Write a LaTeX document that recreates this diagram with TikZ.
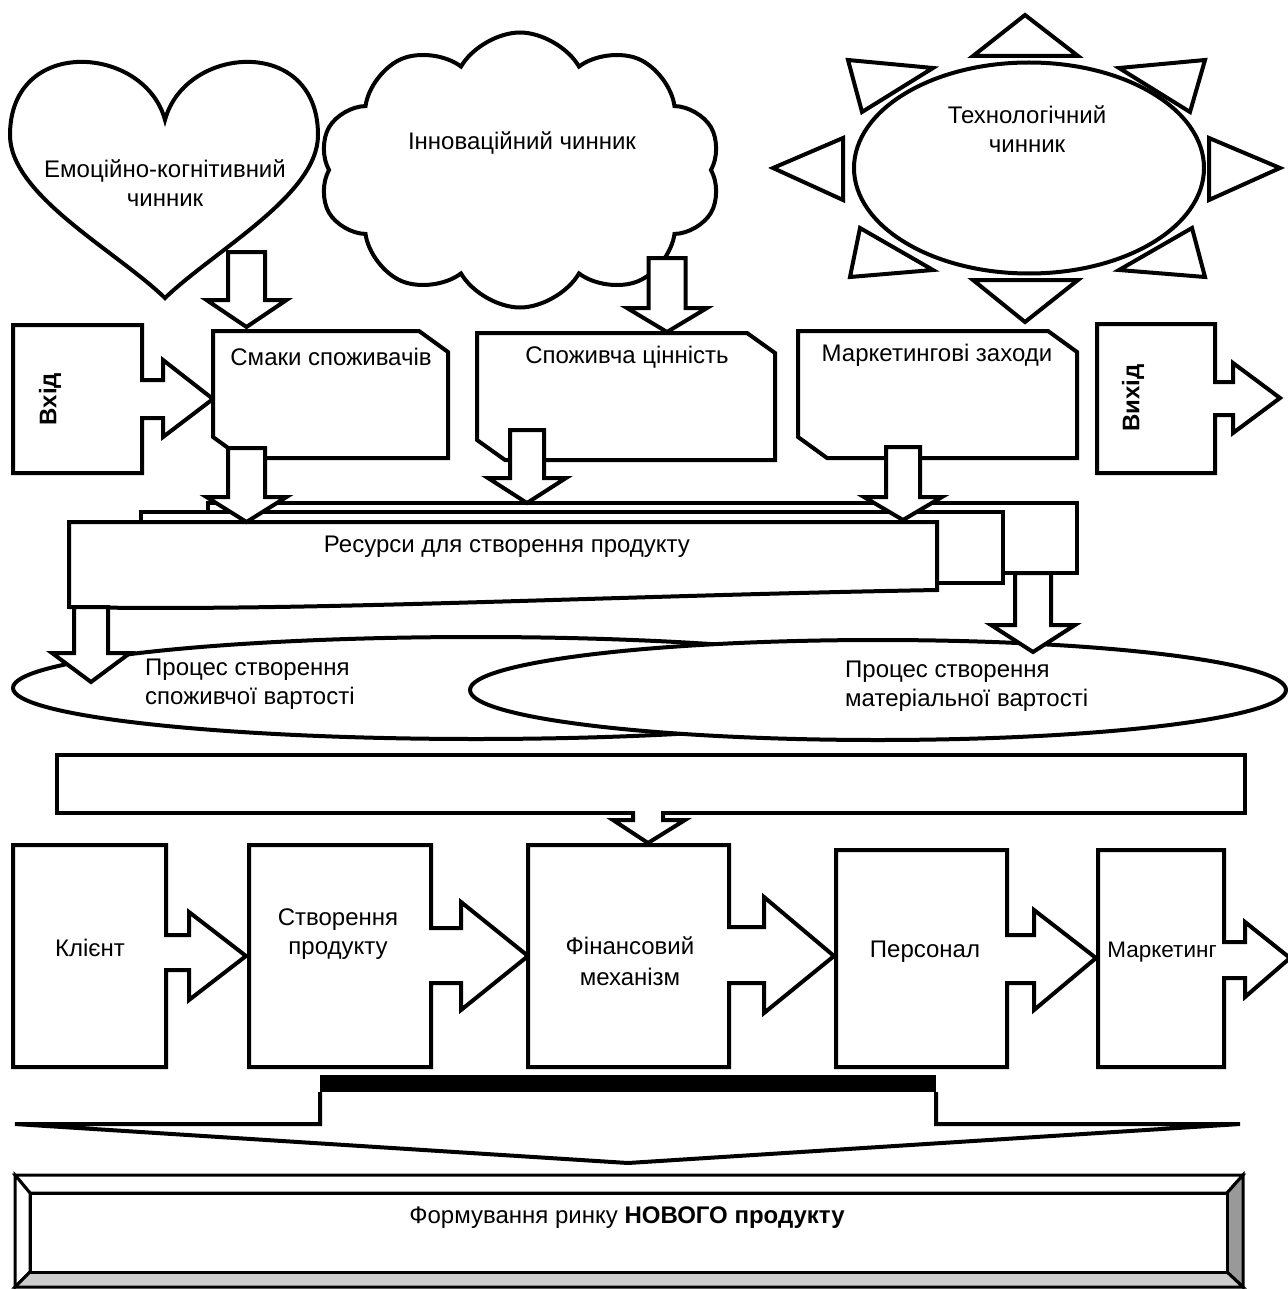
\documentclass[tikz,border=0pt]{standalone}
\usepackage{fontspec}
\setmainfont{Liberation Sans}
\usetikzlibrary{shapes.symbols,shapes.geometric}
\tikzset{
  blk/.style={draw=black, line width=4pt, fill=white, line join=miter},
  txt/.style={font=\fontsize{24}{29}\selectfont, align=center, inner sep=0pt},
}
\newcommand\dnarr[6]{%
  \draw[blk] (#1-#5,#2) -- (#1+#5,#2) -- (#1+#5,#3) -- (#1+#6,#3) -- (#1,#4) -- (#1-#6,#3) -- (#1-#5,#3) -- cycle;}
\begin{document}
\begin{tikzpicture}[x=1pt,y=-1pt]
\useasboundingbox (0,0) rectangle (1287,1289);
% ---------- top row ----------
\draw[blk] (165,120) .. controls (185,45) and (318,35) .. (318,135)
  .. controls (318,195) and (215,250) .. (165,298)
  .. controls (115,250) and (10,195) .. (10,135)
  .. controls (10,35) and (145,45) .. (165,120) -- cycle;
\node[cloud, draw, fill=white, line width=4pt, cloud puffs=10, cloud puff arc=120,
  cloud ignores aspect, minimum width=402pt, minimum height=275pt, inner sep=0pt] (cloud) at (520,170) {};
% sun
\foreach \p in {
  {(973,56) -- (1078,56) -- (1025,15)},
  {(973,280) -- (1078,280) -- (1025,322)},
  {(843,138) -- (843,200) -- (773,168)},
  {(1209,138) -- (1209,200) -- (1280,168)},
  {(848,60) -- (933,68) -- (862,112)},
  {(1205,60) -- (1119,68) -- (1190,112)},
  {(860,228) -- (850,277) -- (933,270)},
  {(1192,228) -- (1205,277) -- (1119,270)}}
  {\draw[blk] \p -- cycle;}
\node[ellipse, draw, fill=white, line width=4pt, minimum width=350pt, minimum height=211pt, inner sep=0pt] (sun) at (1029,168) {};
% arrows from factors
\dnarr{246.5}{252}{300}{327}{18.5}{40}
\dnarr{667}{258}{308}{332}{18.5}{40}
% ---------- middle row ----------
\draw[blk] (13,325) -- (142,325) -- (142,380) -- (163,380) -- (163,360) -- (213,399) -- (163,437) -- (163,418) -- (142,418) -- (142,473) -- (13,473) -- cycle;
\draw[blk] (213,331) -- (419,331) -- (448,352) -- (448,458) -- (242,458) -- (213,437) -- cycle;
\draw[blk] (477,333) -- (747,333) -- (775,353) -- (775,460) -- (505,460) -- (477,440) -- cycle;
\draw[blk] (798,331) -- (1048,331) -- (1077,352) -- (1077,458) -- (827,458) -- (798,437) -- cycle;
\draw[blk] (1097,324) -- (1215,324) -- (1215,382) -- (1233,382) -- (1233,363) -- (1280,398) -- (1233,433) -- (1233,415) -- (1215,415) -- (1215,473) -- (1097,473) -- cycle;
% resources stack
\draw[blk] (208,503) rectangle (1077,573);
\draw[blk] (141,512) rectangle (1003,583);
\draw[blk] (69,522) -- (937,522) -- (937,590) .. controls (600,596) and (300,612) .. (69,607) -- cycle;
\dnarr{246.5}{448}{497}{522}{18.5}{40}
\dnarr{527}{430}{478}{503}{17}{39}
\dnarr{903}{447}{497}{520}{17}{39}
% processes
\draw[blk] (476,688) ellipse [x radius=463, y radius=51];
\draw[blk] (878,690) ellipse [x radius=408, y radius=50];
\dnarr{91}{607}{653}{682}{17}{39}
\dnarr{1033}{573}{625}{652}{18}{42}
% long bar
\draw[blk] (57,755) rectangle (1245,813);
\fill[white] (633,808) -- (663,808) -- (663,820) -- (685,820) -- (648,843) -- (613,820) -- (633,820) -- cycle;
\draw[blk, fill=none] (633,811) -- (633,820) -- (613,820) -- (648,843) -- (685,820) -- (663,820) -- (663,811);
% ---------- bottom row ----------
\draw[blk] (13,845) -- (166,845) -- (166,935) -- (189,935) -- (189,912) -- (246,956) -- (189,1000) -- (189,970) -- (166,970) -- (166,1067) -- (13,1067) -- cycle;
\draw[blk] (249,845) -- (431,845) -- (431,928) -- (461,928) -- (461,902) -- (528,956) -- (461,1010) -- (461,983) -- (431,983) -- (431,1067) -- (249,1067) -- cycle;
\draw[blk] (528,845) -- (729,845) -- (729,927) -- (764,927) -- (764,897) -- (834,956) -- (764,1013) -- (764,983) -- (729,983) -- (729,1067) -- (528,1067) -- cycle;
\draw[blk] (836,850) -- (1007,850) -- (1007,935) -- (1034,935) -- (1034,910) -- (1096,958) -- (1034,1010) -- (1034,983) -- (1007,983) -- (1007,1067) -- (836,1067) -- cycle;
\draw[blk] (1098,850) -- (1224,850) -- (1224,942) -- (1245,942) -- (1245,922) -- (1290,958) -- (1245,997) -- (1245,978) -- (1224,978) -- (1224,1067) -- (1098,1067) -- cycle;
% big merge arrow
\fill[black] (320,1075) rectangle (936,1092);
\draw[blk] (320,1092) -- (320,1124) -- (15,1124) -- (628,1163) -- (1240,1124) -- (936,1124) -- (936,1092);
% bevel box
\draw[blk, line width=3pt] (15,1175) -- (1243,1175) -- (1227,1193) -- (30,1193) -- cycle;
\draw[blk, line width=3pt] (15,1175) -- (30,1193) -- (30,1272) -- (15,1287) -- cycle;
\draw[blk, line width=3pt, fill=black!40] (1243,1175) -- (1243,1287) -- (1227,1272) -- (1227,1193) -- cycle;
\draw[blk, line width=3pt, fill=black!20] (15,1287) -- (30,1272) -- (1227,1272) -- (1243,1287) -- cycle;
\draw[blk, line width=3pt] (30,1193) rectangle (1227,1272);
% ---------- texts ----------
\node[txt] (t-emo) at (165,183) {Емоційно-когнітивний\\чинник};
\node[txt] (t-inn) at (522,143) {Інноваційний чинник};
\node[txt] (t-tech) at (1027,129) {Технологічний\\чинник};
\node[txt, rotate=90, font=\fontsize{24}{29}\selectfont\bfseries] (t-in) at (50,399) {Вхід};
\node[txt, rotate=90, font=\fontsize{24}{29}\selectfont\bfseries] (t-out) at (1133,398) {Вихід};
\node[txt] (t-smak) at (331,357) {Смаки споживачів};
\node[txt] (t-cin) at (627,357) {Споживча цінність};
\node[txt] (t-mz) at (937,355) {Маркетингові заходи};
\node[txt] (t-res) at (507,547) {Ресурси для створення продукту};
\node[txt, align=left, anchor=west] (t-p1) at (145,684) {Процес створення\\споживчої вартості};
\node[txt, align=left, anchor=west] (t-p2) at (845,686) {Процес створення\\ матеріальної вартості};
\node[txt] (t-kl) at (90,948) {Клієнт};
\node[txt] (t-st) at (338,934) {Створення\\продукту};
\node[txt, font=\fontsize{24}{31}\selectfont] (t-fin) at (630,961) {Фінансовий\\механізм};
\node[txt] (t-pers) at (925,952) {Персонал};
\node[txt, font=\fontsize{22.5}{29}\selectfont] (t-mkt) at (1162,952) {Маркетинг};
\node[txt] (t-form) at (627,1218) {Формування ринку \textbf{НОВОГО продукту}};
\end{tikzpicture}
\end{document}
